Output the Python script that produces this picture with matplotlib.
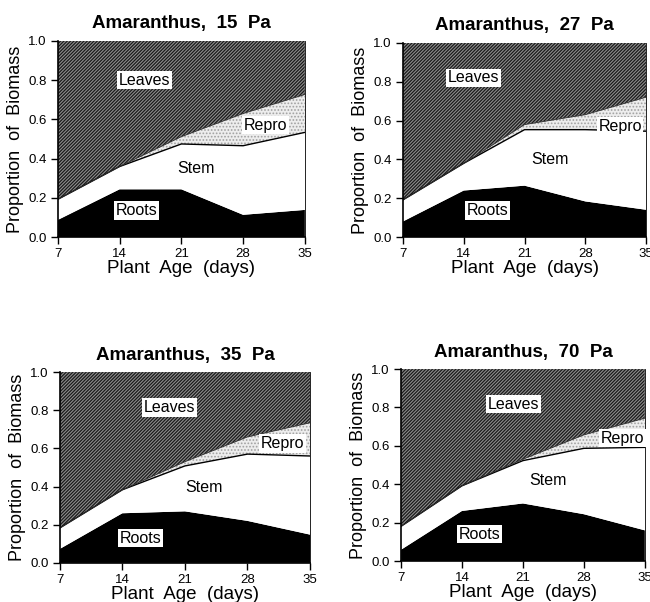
import numpy as np
import matplotlib.pyplot as plt

plt.rcParams['font.family'] = ['Liberation Sans', 'DejaVu Sans']
plt.rcParams['hatch.linewidth'] = 0.8

# plant age (days)
days = [7, 14, 21, 28, 35]
co2_levels = ['15', '27', '35', '70']

# cumulative boundaries (proportion of biomass)
roots_top = {
    '15': [0.088, 0.244, 0.244, 0.114, 0.139],
    '27': [0.081, 0.240, 0.265, 0.184, 0.141],
    '35': [0.073, 0.260, 0.270, 0.220, 0.148],
    '70': [0.059, 0.261, 0.300, 0.244, 0.160],
}
stem_top = {
    '15': [0.193, 0.360, 0.475, 0.466, 0.534],
    '27': [0.192, 0.380, 0.553, 0.553, 0.545],
    '35': [0.183, 0.383, 0.508, 0.570, 0.560],
    '70': [0.181, 0.392, 0.523, 0.587, 0.592],
}
repro_top = {
    '15': [0.193, 0.360, 0.512, 0.630, 0.727],
    '27': [0.192, 0.380, 0.579, 0.630, 0.720],
    '35': [0.183, 0.383, 0.530, 0.660, 0.734],
    '70': [0.181, 0.392, 0.530, 0.657, 0.744],
}

# label positions (day, proportion) for each panel
label_pos = {
    '15': {'Leaves': (16.8, 0.80), 'Repro': (30.5, 0.57), 'Stem': (22.7, 0.35), 'Roots': (15.9, 0.136)},
    '27': {'Leaves': (15.1, 0.82), 'Repro': (32.0, 0.57), 'Stem': (23.9, 0.40), 'Roots': (16.7, 0.137)},
    '35': {'Leaves': (19.3, 0.814), 'Repro': (31.9, 0.626), 'Stem': (23.1, 0.395), 'Roots': (16.0, 0.13)},
    '70': {'Leaves': (19.9, 0.817), 'Repro': (32.4, 0.64), 'Stem': (23.9, 0.42), 'Roots': (16.0, 0.14)},
}

# axes rectangles in figure fraction
rects = {
    '15': [0.089, 0.606, 0.380, 0.326],
    '27': [0.620, 0.606, 0.374, 0.323],
    '35': [0.092, 0.065, 0.385, 0.317],
    '70': [0.617, 0.068, 0.375, 0.319],
}

fig = plt.figure(figsize=(6.5, 6.02), dpi=100)

for lvl in co2_levels:
    ax = fig.add_axes(rects[lvl])
    r = np.array(roots_top[lvl])
    s = np.array(stem_top[lvl])
    p = np.array(repro_top[lvl])

    ax.fill_between(days, 0, r, facecolor='black', linewidth=0)
    ax.fill_between(days, r, s, facecolor='white', linewidth=0)
    ax.fill_between(days, s, p, facecolor='#ededed', hatch='.....',
                    edgecolor='#a0a0a0', linewidth=0)
    ax.fill_between(days, p, 1.0, facecolor='#1a1a1a', hatch='//////////',
                    edgecolor='#8e8e8e', linewidth=0)
    ax.plot(days, s, color='black', linewidth=1.0)
    ax.plot(days, p, color='#333333', linewidth=0.6)

    box = dict(facecolor='white', edgecolor='none', pad=1.2)
    for name, (x, y) in label_pos[lvl].items():
        ax.text(x, y, name, ha='center', va='center', fontsize=11.5,
                bbox=None if name == 'Stem' else box)

    ax.set_xlim(7, 35)
    ax.set_ylim(0, 1.0)
    ax.set_xticks(days)
    ax.set_yticks([0.0, 0.2, 0.4, 0.6, 0.8, 1.0])
    ax.set_yticklabels(['0.0', '0.2', '0.4', '0.6', '0.8', '1.0'])
    ax.tick_params(direction='out', length=5, width=1, labelsize=9.5, pad=3)
    ax.spines['top'].set_visible(False)
    ax.spines['right'].set_linewidth(0.6)
    ax.spines['left'].set_linewidth(1.2)
    ax.spines['bottom'].set_linewidth(1.2)

    ax.set_title(f'Amaranthus,  {lvl}  Pa', fontsize=13.5, fontweight='bold', pad=9)
    ax.set_xlabel('Plant  Age  (days)', fontsize=13.5, labelpad=0)
    ax.set_ylabel('Proportion  of  Biomass', fontsize=13, labelpad=3)

plt.savefig('out.png', dpi=100)
